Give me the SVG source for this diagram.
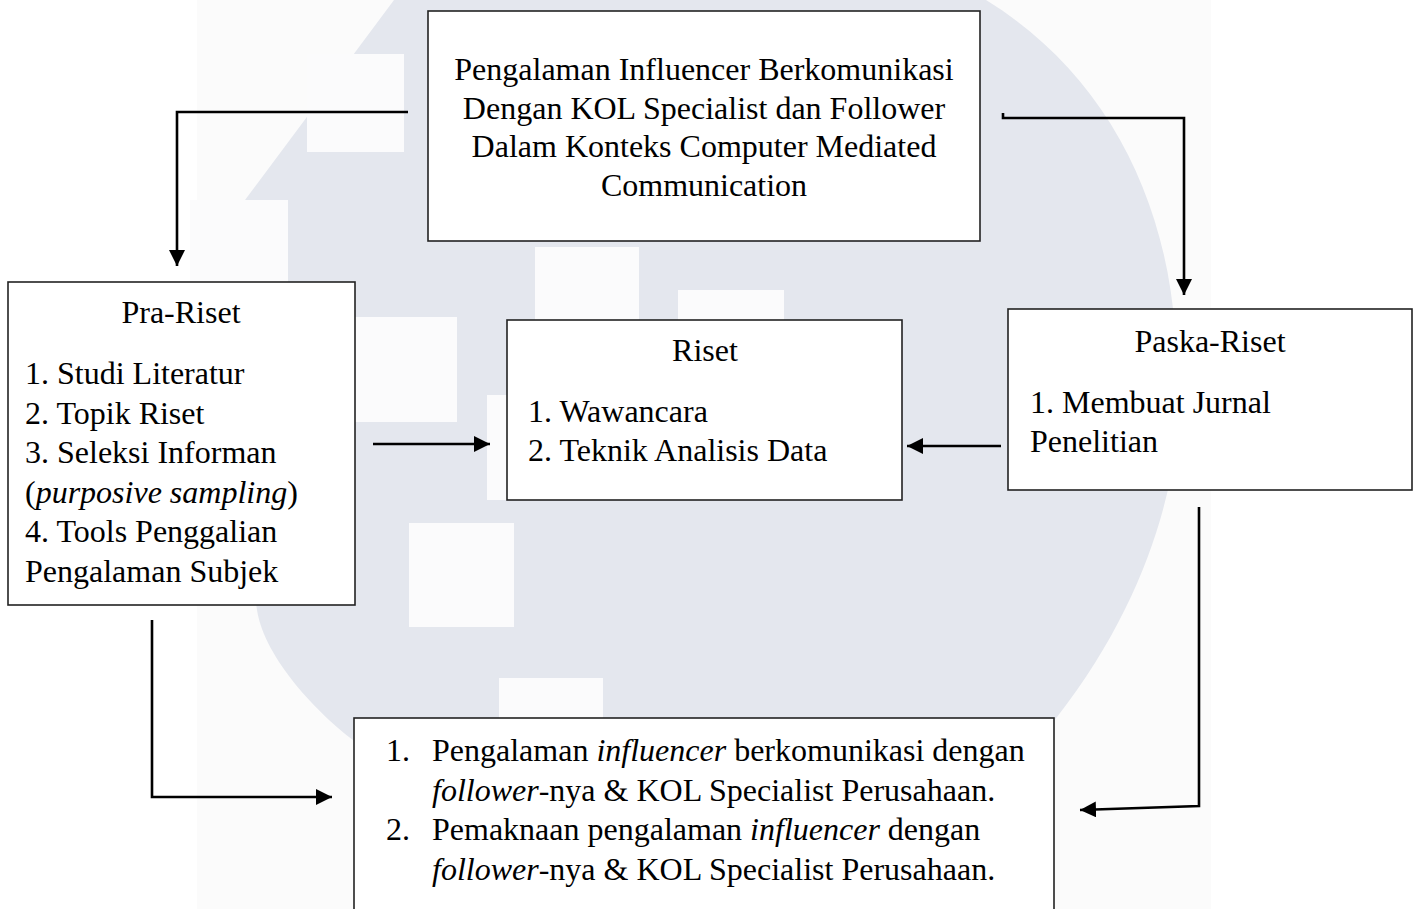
<svg xmlns="http://www.w3.org/2000/svg" width="1420" height="909" viewBox="0 0 1420 909">
<style>
.box{fill:#ffffff;stroke:#222222;stroke-width:1.6}
.t{font-family:"Liberation Serif","Times New Roman",serif;font-size:32px;fill:#000000}
.c{text-anchor:middle}
.i{font-style:italic}
.con{fill:none;stroke:#000000;stroke-width:2.6}
.wm{fill:#e4e7ee}
.wh{fill:#fbfbfc}
</style>
<defs>
<marker id="ah" markerUnits="userSpaceOnUse" markerWidth="17" markerHeight="16" refX="16" refY="8" orient="auto">
<path d="M0,0 L16,8 L0,16 z" fill="#000000"/>
</marker>
</defs>
<rect x="0" y="0" width="1420" height="909" fill="#ffffff"/>
<g id="watermark">
<rect x="197" y="0" width="1014" height="909" fill="#fbfbfb"/>
<path class="wm" d="M394,0 L986,0 C1100,70 1165,190 1175,330 C1190,400 1180,560 1057,717 C990,810 500,830 353,740 C320,715 265,660 257,610 C240,500 238,380 245,200 Z"/>
<rect class="wh" x="190" y="200" width="98" height="360"/>
<rect class="wh" x="307" y="54" width="97" height="98"/>
<rect class="wh" x="535" y="247" width="104" height="100"/>
<rect class="wh" x="678" y="290" width="106" height="60"/>
<rect class="wh" x="355" y="317" width="102" height="105"/>
<rect class="wh" x="487" y="395" width="40" height="105"/>
<rect class="wh" x="409" y="523" width="105" height="104"/>
<rect class="wh" x="499" y="678" width="104" height="42"/>
</g>
<g id="connectors">
<path class="con" d="M408,112 H177 V266" marker-end="url(#ah)"/>
<path class="con" d="M1003,113 V118 H1184 V295" marker-end="url(#ah)"/>
<path class="con" d="M373,444 H490" marker-end="url(#ah)"/>
<path class="con" d="M1001,446 H907" marker-end="url(#ah)"/>
<path class="con" d="M152,620 V797 H332" marker-end="url(#ah)"/>
<path class="con" d="M1199,507 V806 L1080,810" marker-end="url(#ah)"/>
</g>
<g id="node-top">
<rect class="box" x="428" y="11" width="552" height="230"/>
<text class="t c" x="704" y="80">Pengalaman Influencer Berkomunikasi</text>
<text class="t c" x="704" y="119">Dengan KOL Specialist dan Follower</text>
<text class="t c" x="704" y="157">Dalam Konteks Computer Mediated</text>
<text class="t c" x="704" y="196">Communication</text>
</g>
<g id="node-praRiset">
<rect class="box" x="8" y="282" width="347" height="323"/>
<text class="t c" x="181" y="323">Pra-Riset</text>
<text class="t" x="25" y="384">1. Studi Literatur</text>
<text class="t" x="25" y="424">2. Topik Riset</text>
<text class="t" x="25" y="463">3. Seleksi Informan</text>
<text class="t" x="25" y="503">(<tspan class="i">purposive sampling</tspan>)</text>
<text class="t" x="25" y="542">4. Tools Penggalian</text>
<text class="t" x="25" y="582">Pengalaman Subjek</text>
</g>
<g id="node-riset">
<rect class="box" x="507" y="320" width="395" height="180"/>
<text class="t c" x="705" y="361">Riset</text>
<text class="t" x="528" y="422">1. Wawancara</text>
<text class="t" x="528" y="461">2. Teknik Analisis Data</text>
</g>
<g id="node-paskaRiset">
<rect class="box" x="1008" y="309" width="404" height="181"/>
<text class="t c" x="1210" y="352">Paska-Riset</text>
<text class="t" x="1030" y="413">1. Membuat Jurnal</text>
<text class="t" x="1030" y="452">Penelitian</text>
</g>
<g id="node-hasil">
<rect class="box" x="354" y="718" width="700" height="200"/>
<text class="t" x="386" y="761">1.</text>
<text class="t" x="432" y="761">Pengalaman <tspan class="i">influencer</tspan> berkomunikasi dengan</text>
<text class="t" x="432" y="801"><tspan class="i">follower</tspan>-nya &amp; KOL Specialist Perusahaan.</text>
<text class="t" x="386" y="840">2.</text>
<text class="t" x="432" y="840">Pemaknaan pengalaman <tspan class="i">influencer</tspan> dengan</text>
<text class="t" x="432" y="880"><tspan class="i">follower</tspan>-nya &amp; KOL Specialist Perusahaan.</text>
</g>
</svg>
